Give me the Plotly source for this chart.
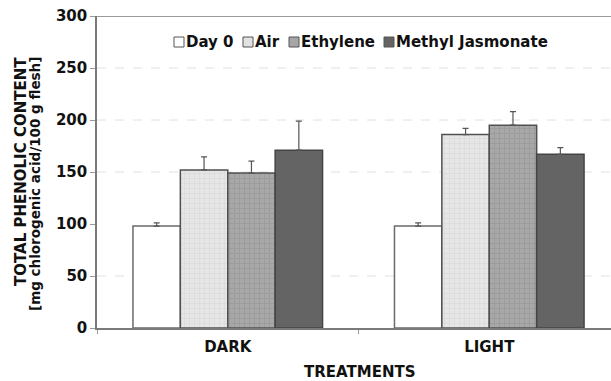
import plotly.graph_objects as go

# Data: total phenolic content by storage condition and treatment
conditions = ["DARK", "LIGHT"]
treatments = ["Day 0", "Air", "Ethylene", "Methyl Jasmonate"]
day0 = [98, 98]
air = [152, 186]
ethylene = [149, 195]
methyl_jasmonate = [171, 167]
day0_err = [3, 3]
air_err = [12.5, 6]
ethylene_err = [11.5, 13]
methyl_jasmonate_err = [28, 6.5]
y_ticks = [0, 50, 100, 150, 200, 250, 300]

series = [day0, air, ethylene, methyl_jasmonate]
errors = [day0_err, air_err, ethylene_err, methyl_jasmonate_err]

W, H = 611, 381
ML, MR, MT, MB = 97, 0, 16, 53
FONT = "DejaVu Sans"
EDGE = "#505050"

styles = [
    dict(color="#ffffff", line=dict(color="#6a6a6a", width=1.5)),
    dict(color="#e2e2e2", line=dict(color=EDGE, width=1.5),
         pattern=dict(shape="+", fgcolor="#cdcdcd", bgcolor="#e6e6e6", size=5, solidity=0.25)),
    dict(color="#a4a4a4", line=dict(color=EDGE, width=1.5),
         pattern=dict(shape="+", fgcolor="#8a8a8a", bgcolor="#a8a8a8", size=5, solidity=0.3)),
    dict(color="#646464", line=dict(color="#444444", width=1.5)),
]

fig = go.Figure()
for name, vals, err, st in zip(treatments, series, errors, styles):
    fig.add_trace(go.Bar(
        x=conditions, y=vals, name=name, marker=st, showlegend=False,
        error_y=dict(type="data", symmetric=False, array=err,
                     arrayminus=[0] * len(err), color="#555555",
                     thickness=1.2, width=3),
    ))

# dashed horizontal guides
for g in [50, 150, 200, 250]:
    fig.add_shape(type="line", xref="paper", x0=0, x1=1, yref="y", y0=g, y1=g,
                  line=dict(color="#e0e0e0", width=1, dash="dash"), layer="below")
# top frame line
fig.add_shape(type="line", xref="paper", x0=0, x1=1, yref="y", y0=300, y1=300,
              line=dict(color="#7a7a7a", width=1.5))

# legend drawn as swatches + labels
pw = W - ML - MR
ph = H - MT - MB
def px(x):
    return (x - ML) / pw
def py(y):
    return 1 - (y - MT) / ph

legend_fill = ["#ffffff", "#e2e2e2", "#a6a6a6", "#646464"]
legend_sq_x = [174, 243, 289, 384]
legend_y = 42
for name, fill, sx in zip(treatments, legend_fill, legend_sq_x):
    fig.add_shape(type="rect", xref="paper", yref="paper",
                  x0=px(sx), x1=px(sx + 10), y0=py(legend_y + 5), y1=py(legend_y - 5),
                  fillcolor=fill, line=dict(color="#555555", width=1))
    fig.add_annotation(xref="paper", yref="paper", x=px(sx + 10), y=py(legend_y),
                       text=f"<b>{name}</b>", showarrow=False, xanchor="left",
                       yanchor="middle", font=dict(family=FONT, size=15, color="#111"))

# y-axis title (two lines)
fig.add_annotation(xref="paper", yref="paper", x=px(21), y=py(172),
                   text="<b>TOTAL PHENOLIC CONTENT</b>", textangle=-90, showarrow=False,
                   xanchor="center", yanchor="middle",
                   font=dict(family=FONT, size=15, color="#111"))
fig.add_annotation(xref="paper", yref="paper", x=px(35), y=py(184),
                   text="<b>[mg chlorogenic acid/100 g flesh]</b>", textangle=-90,
                   showarrow=False, xanchor="center", yanchor="middle",
                   font=dict(family=FONT, size=13.5, color="#111"))
# x-axis title
fig.add_annotation(xref="paper", yref="paper", x=px(359), y=py(372),
                   text="<b>TREATMENTS</b>", showarrow=False,
                   xanchor="center", yanchor="middle",
                   font=dict(family=FONT, size=15, color="#111"))

fig.update_layout(
    width=W, height=H,
    margin=dict(l=ML, r=MR, t=MT, b=MB, pad=0),
    paper_bgcolor="white", plot_bgcolor="white",
    barmode="group", bargap=0.275, bargroupgap=0,
    font=dict(family=FONT, color="#111"),
    xaxis=dict(range=[-0.5, 1.4655], showline=True, linecolor="#7a7a7a", linewidth=1.5,
               ticks="outside", tickson="boundaries", ticklen=4, tickcolor="#999",
               tickfont=dict(family=FONT, size=15),
               tickvals=[0, 1], ticktext=["<b>DARK</b>", "<b>LIGHT</b>"],
               ticklabelstandoff=4, showgrid=False, zeroline=False),
    yaxis=dict(range=[0, 300], tickvals=y_ticks,
               ticktext=[f"<b>{v}</b>" for v in y_ticks],
               showline=True, linecolor="#7a7a7a", linewidth=1.5,
               ticks="outside", ticklen=5, tickcolor="#999",
               tickfont=dict(family=FONT, size=15),
               showgrid=False, zeroline=False),
)

fig.write_html("out.html")
